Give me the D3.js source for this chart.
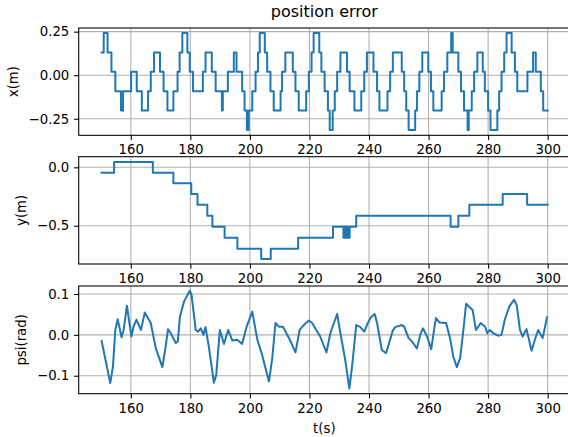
<!DOCTYPE html>
<html><head><meta charset="utf-8">
<script src="https://cdn.jsdelivr.net/npm/d3@7"></script>
<style>body{margin:0;background:#fff}svg{display:block}text{font-family:"DejaVu Sans",sans-serif}</style>
</head><body><svg id="c" width="568" height="437"></svg>
<script>
// ---- data ----
const xTimes = [150.2,150.9,152.2,153.5,154.8,156.7,157.4,160.1,162.0,163.7,165.8,166.7,167.8,169.8,171.0,172.3,174.3,175.7,176.4,177.3,179.0,179.8,180.9,184.2,185.1,187.2,188.5,190.6,190.9,192.6,194.6,195.5,197.4,198.2,199.0,199.6,200.8,201.9,202.7,203.3,205.0,205.8,206.9,208.0,210.3,210.8,211.9,214.4,215.3,216.4,218.9,219.8,220.7,221.4,223.3,224.0,225.1,226.2,226.8,227.8,228.5,229.3,230.4,232.6,233.5,235.1,237.4,238.4,239.3,241.5,242.7,243.5,246.2,247.1,248.0,251.0,251.8,252.5,253.3,255.5,256.1,256.9,257.9,259.9,260.8,261.6,264.4,265.2,266.3,267.6,268.1,270.0,270.9,271.9,273.1,273.5,274.5,275.3,276.4,278.2,278.9,280.0,280.8,283.1,283.7,284.5,285.4,286.2,287.9,289.0,289.8,293.2,295.1,296.0,297.7,298.5,300.0];
const xValues = [0.131,0.243,0.131,0.020,-0.092,-0.203,-0.092,0.020,-0.092,-0.203,-0.092,0.020,0.131,0.020,-0.092,-0.203,-0.092,0.020,0.131,0.243,0.131,0.020,-0.092,0.020,0.131,0.020,-0.092,-0.203,-0.092,0.020,0.131,0.020,-0.092,-0.203,-0.315,-0.203,-0.092,0.020,0.131,0.243,0.131,0.020,-0.092,-0.203,-0.092,0.020,0.131,0.020,-0.092,-0.203,-0.092,0.020,0.131,0.243,0.131,0.020,-0.092,-0.203,-0.315,-0.203,-0.092,0.020,0.131,0.020,-0.092,-0.203,-0.092,0.020,0.131,0.020,-0.092,-0.203,-0.092,0.020,0.131,0.020,-0.092,-0.203,-0.315,-0.203,-0.092,0.020,0.131,0.020,-0.092,-0.203,-0.092,0.020,0.131,0.243,0.131,0.020,-0.092,-0.203,-0.315,-0.203,-0.092,0.020,0.131,0.020,-0.092,-0.203,-0.315,-0.203,-0.092,0.020,0.131,0.243,0.131,0.020,-0.092,0.020,0.131,0.020,-0.092,-0.203,-0.203];

const yTimes = [150.2,154.4,167.4,174.3,180.3,182.4,185.7,187.4,191.5,195.8,203.8,207.0,216.2,227.9,231.4,231.7,231.9,232.2,232.4,232.7,232.9,233.5,235.7,267.4,270.0,273.7,284.9,293.1,300.0];
const yValues = [-0.046,0.046,-0.046,-0.137,-0.229,-0.320,-0.414,-0.508,-0.603,-0.697,-0.785,-0.697,-0.603,-0.508,-0.603,-0.508,-0.603,-0.508,-0.603,-0.508,-0.603,-0.508,-0.414,-0.508,-0.414,-0.320,-0.229,-0.320,-0.320];

const psiTimes = [150.2,153.1,154.0,154.8,155.6,156.9,157.6,158.7,160.2,160.9,161.9,163.4,164.7,166.7,168.4,170.6,171.7,172.5,173.4,175.1,175.8,176.5,177.9,179.8,180.4,181.8,182.6,183.5,184.4,185.1,186.2,187.9,188.7,189.9,191.3,192.7,194.1,195.7,197.4,198.9,200.8,202.5,204.1,206.4,207.5,208.6,209.7,211.1,213.4,215.3,216.7,218.1,219.8,220.9,223.6,225.7,227.0,229.3,230.4,232.0,233.4,234.3,235.7,236.9,238.4,239.3,240.6,241.9,242.7,244.3,245.7,246.6,248.0,248.8,251.0,251.8,253.3,254.4,256.1,257.2,258.1,259.5,260.9,262.0,262.5,263.7,265.9,267.2,268.3,269.5,270.6,271.7,272.6,273.7,274.8,275.9,276.7,277.5,279.0,279.7,280.6,281.7,283.4,284.5,285.6,287.1,288.7,289.6,290.7,291.6,292.9,294.6,295.7,296.8,298.3,299.8];
const psiValues = [-0.015,-0.118,-0.078,0.012,0.038,-0.006,0.012,0.071,-0.004,0.020,0.037,0.012,0.055,0.029,-0.033,-0.079,-0.029,0.014,0.004,-0.020,-0.016,0.045,0.082,0.108,0.098,0.012,0.008,0.016,0.000,0.019,-0.029,-0.117,-0.098,0.012,-0.022,0.012,-0.014,-0.012,-0.022,0.020,0.057,-0.012,-0.049,-0.114,-0.057,0.029,0.020,0.020,-0.012,-0.043,0.012,0.024,0.035,0.029,-0.004,-0.043,0.004,0.051,0.004,-0.061,-0.131,-0.078,0.024,0.020,0.008,0.024,0.043,0.051,0.029,-0.037,-0.045,-0.024,0.011,0.019,0.024,0.020,-0.008,-0.016,-0.033,0.000,0.016,-0.004,-0.035,0.020,0.041,0.030,0.029,-0.008,-0.053,-0.079,-0.057,0.012,0.076,0.068,0.061,0.012,0.020,0.029,0.020,0.004,0.012,0.004,-0.002,0.000,0.037,0.069,0.086,0.073,0.012,-0.004,0.014,-0.039,-0.012,0.012,-0.008,0.043];

const tTicks = [160,180,200,220,240,260,280,300];
const xTicks = [-0.25,0,0.25];
const yTicks = [-0.5,0];
const psiTicks = [-0.1,0,0.1];
const titleText = "position error";
const xLabelText = "t(s)";

// ---- layout ----
const svg = d3.select("#c");
const left = 78.7, right = 570;
const FS = 13.3, TL = 4.7, LW = 1.07;
const color = "#1f77b4";
const x = d3.scaleLinear().domain([142.5, 307.5]).range([left, right]);

const panels = [
  {top:28, bottom:135.3, domain:[-0.345,0.271], ticks:xTicks, fmt:d3.format(".2f"), label:"x(m)", lx:17.5, t:xTimes, v:xValues, curve:d3.curveStepAfter},
  {top:156.7, bottom:264, domain:[-0.828,0.091], ticks:yTicks, fmt:d3.format(".1f"), label:"y(m)", lx:26, t:yTimes, v:yValues, curve:d3.curveStepAfter},
  {top:286, bottom:393.7, domain:[-0.144,0.1196], ticks:psiTicks, fmt:d3.format(".1f"), label:"psi(rad)", lx:26, t:psiTimes, v:psiValues, curve:d3.curveLinear}
];

panels.forEach((p,i)=>{
  const y = d3.scaleLinear().domain(p.domain).range([p.bottom, p.top]);
  const g = svg.append("g");
  // grid
  g.selectAll(".gx").data(tTicks).join("line")
    .attr("x1",d=>x(d)).attr("x2",d=>x(d)).attr("y1",p.top).attr("y2",p.bottom)
    .attr("stroke","#b0b0b0").attr("stroke-width",LW);
  g.selectAll(".gy").data(p.ticks).join("line")
    .attr("x1",left).attr("x2",right).attr("y1",d=>y(d)).attr("y2",d=>y(d))
    .attr("stroke","#b0b0b0").attr("stroke-width",LW);
  // line
  const pts = p.t.map((t,k)=>[t,p.v[k]]);
  g.append("path").datum(pts)
    .attr("d", d3.line().x(d=>x(d[0])).y(d=>y(d[1])).curve(p.curve))
    .attr("fill","none").attr("stroke",color).attr("stroke-width",2)
    .attr("stroke-linejoin","round").attr("stroke-linecap","square");
  // axes
  const ax = g.append("g").attr("transform",`translate(0,${p.bottom})`)
    .call(d3.axisBottom(x).tickValues(tTicks).tickSize(TL).tickPadding(4.7).tickFormat(d3.format("d")));
  const ay = g.append("g").attr("transform",`translate(${left},0)`)
    .call(d3.axisLeft(y).tickValues(p.ticks).tickSize(TL).tickPadding(4.7).tickFormat(p.fmt));
  [ax,ay].forEach(a=>{
    a.select(".domain").remove();
    a.selectAll("line").attr("stroke","#000").attr("stroke-width",LW);
    a.selectAll("text").attr("font-size",FS).attr("fill","#000").style("font-family","DejaVu Sans");
  });
  // spines
  g.append("rect").attr("x",left).attr("y",p.top).attr("width",right-left).attr("height",p.bottom-p.top)
    .attr("fill","none").attr("stroke","#000").attr("stroke-width",LW);
  // y label
  g.append("text").attr("transform",`translate(${p.lx},${(p.top+p.bottom)/2}) rotate(-90)`)
    .attr("text-anchor","middle").attr("font-size",FS).text(p.label);
});

svg.append("text").attr("x",(left+right)/2).attr("y",16.5).attr("text-anchor","middle")
  .attr("font-size",16).text(titleText);
svg.append("text").attr("x",(left+right)/2).attr("y",432.5).attr("text-anchor","middle")
  .attr("font-size",FS).text(xLabelText);
</script></body></html>
